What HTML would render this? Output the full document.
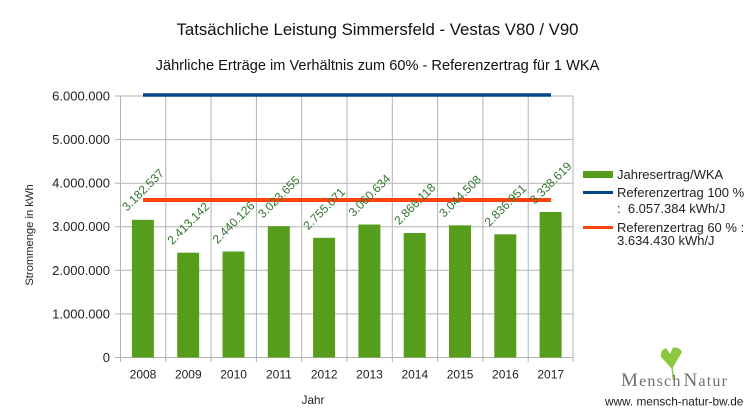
<!DOCTYPE html>
<html><head><meta charset="utf-8"><style>
html,body{margin:0;padding:0;background:#fff;}
svg{display:block;font-family:"Liberation Sans",Arial,sans-serif;}
</style></head><body>
<svg width="756" height="416" viewBox="0 0 756 416" xmlns="http://www.w3.org/2000/svg">
<rect width="756" height="416" fill="#fff"/>
<text x="377.5" y="35" font-size="16.8" text-anchor="middle" fill="#111">Tatsächliche Leistung Simmersfeld - Vestas V80 / V90</text>
<text x="377.5" y="70" font-size="14.6" text-anchor="middle" fill="#111">Jährliche Erträge im Verhältnis zum 60% - Referenzertrag für 1 WKA</text>
<g stroke="#b3b3b3" stroke-width="1" fill="none">
<line x1="115" y1="96" x2="573" y2="96"/>
<line x1="115" y1="139.6" x2="573" y2="139.6"/>
<line x1="115" y1="183.2" x2="573" y2="183.2"/>
<line x1="115" y1="226.75" x2="573" y2="226.75"/>
<line x1="115" y1="270.3" x2="573" y2="270.3"/>
<line x1="115" y1="313.9" x2="573" y2="313.9"/>
<line x1="115" y1="357.5" x2="573" y2="357.5"/>
<line x1="120.5" y1="96" x2="120.5" y2="362"/>
<line x1="165.8" y1="96" x2="165.8" y2="362"/>
<line x1="211.1" y1="96" x2="211.1" y2="362"/>
<line x1="256.4" y1="96" x2="256.4" y2="362"/>
<line x1="301.7" y1="96" x2="301.7" y2="362"/>
<line x1="347" y1="96" x2="347" y2="362"/>
<line x1="392.3" y1="96" x2="392.3" y2="362"/>
<line x1="437.6" y1="96" x2="437.6" y2="362"/>
<line x1="482.9" y1="96" x2="482.9" y2="362"/>
<line x1="528.2" y1="96" x2="528.2" y2="362"/>
<line x1="573" y1="96" x2="573" y2="362"/>
</g>
<g font-size="13" text-anchor="end" fill="#222">
<text x="110" y="100.5">6.000.000</text>
<text x="110" y="144.1">5.000.000</text>
<text x="110" y="187.7">4.000.000</text>
<text x="110" y="231.2">3.000.000</text>
<text x="110" y="274.8">2.000.000</text>
<text x="110" y="318.4">1.000.000</text>
<text x="110" y="362">0</text>
</g>
<g fill="#579d1c">
<rect x="131.9" y="219.8" width="22" height="137.7"/>
<rect x="177.2" y="252.7" width="22" height="104.8"/>
<rect x="222.5" y="251.5" width="22" height="106"/>
<rect x="267.8" y="226.2" width="22" height="131.3"/>
<rect x="313.1" y="237.8" width="22" height="119.7"/>
<rect x="358.4" y="224.5" width="22" height="133"/>
<rect x="403.7" y="233" width="22" height="124.5"/>
<rect x="449" y="225.3" width="22" height="132.2"/>
<rect x="494.3" y="234.3" width="22" height="123.2"/>
<rect x="539.6" y="212" width="22" height="145.5"/>
</g>
<line x1="143" y1="95" x2="551" y2="95" stroke="#004586" stroke-width="3.5"/>
<line x1="143" y1="200" x2="551" y2="200" stroke="#ff420e" stroke-width="4"/>
<g font-size="12" fill="#31752f" text-anchor="middle">
<text transform="translate(143,190) rotate(-45)" dy="4">3.182.537</text>
<text transform="translate(188.3,223.5) rotate(-45)" dy="4">2.413.142</text>
<text transform="translate(233.6,222.5) rotate(-45)" dy="4">2.440.126</text>
<text transform="translate(278.9,197) rotate(-45)" dy="4">3.023.655</text>
<text transform="translate(324.2,208.8) rotate(-45)" dy="4">2.755.071</text>
<text transform="translate(369.5,195.5) rotate(-45)" dy="4">3.060.634</text>
<text transform="translate(414.8,204) rotate(-45)" dy="4">2.866.118</text>
<text transform="translate(460.1,196.3) rotate(-45)" dy="4">3.044.508</text>
<text transform="translate(505.4,205.3) rotate(-45)" dy="4">2.836.951</text>
<text transform="translate(550.7,183) rotate(-45)" dy="4">3.338.619</text>
</g>
<g font-size="12" text-anchor="middle" fill="#222">
<text x="143" y="378.3">2008</text>
<text x="188.3" y="378.3">2009</text>
<text x="233.6" y="378.3">2010</text>
<text x="278.9" y="378.3">2011</text>
<text x="324.2" y="378.3">2012</text>
<text x="369.5" y="378.3">2013</text>
<text x="414.8" y="378.3">2014</text>
<text x="460.1" y="378.3">2015</text>
<text x="505.4" y="378.3">2016</text>
<text x="550.7" y="378.3">2017</text>
</g>
<text x="313" y="404.2" font-size="11.7" text-anchor="middle" fill="#222">Jahr</text>
<text transform="translate(33,235) rotate(-90)" font-size="11.2" text-anchor="middle" fill="#222">Strommenge in kWh</text>
<rect x="583" y="171" width="30" height="7" fill="#579d1c"/>
<line x1="583" y1="192.5" x2="613" y2="192.5" stroke="#004586" stroke-width="3"/>
<line x1="583" y1="227.5" x2="613" y2="227.5" stroke="#ff420e" stroke-width="3"/>
<g font-size="13" fill="#222">
<text x="617" y="178.8">Jahresertrag/WKA</text>
<text x="617" y="196.8">Referenzertrag 100 %</text>
<text x="617" y="212.8" xml:space="preserve">:  6.057.384 kWh/J</text>
<text x="617" y="231.8">Referenzertrag 60 % :</text>
<text x="617" y="245.2">3.634.430 kWh/J</text>
</g>
<path d="M672,369 L661,357 Q660,350 666,348 L670,354 L673,347.5 Q680,347 682,352 Z" fill="#8dc63f"/>
<line x1="672" y1="366" x2="673.5" y2="380" stroke="#8dc63f" stroke-width="1.5"/>
<text x="621" y="386" font-family="'Liberation Serif',serif" font-size="16" letter-spacing="1.2" fill="#6e6e6e"><tspan font-size="19">M</tspan>ensch<tspan dx="2" font-size="19">N</tspan>atur</text>
<text x="605" y="405.5" font-size="11.8" fill="#222">www. mensch-natur-bw.de</text>
</svg>
</body></html>
